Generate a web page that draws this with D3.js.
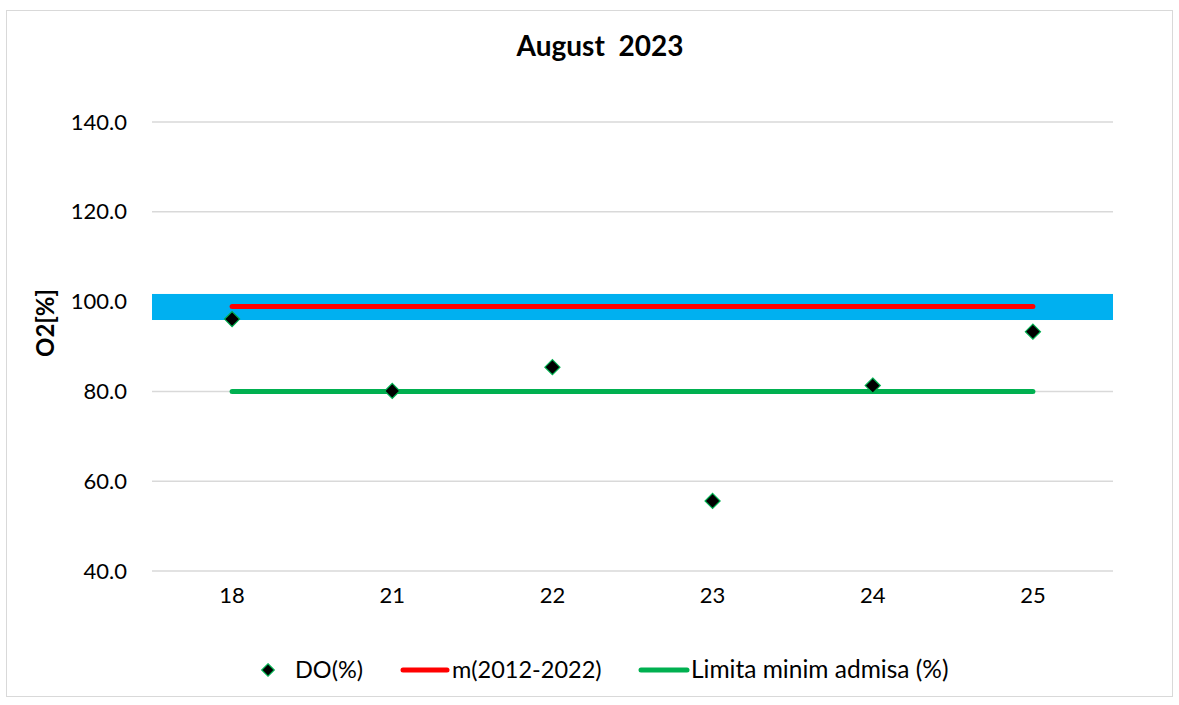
<!DOCTYPE html>
<html>
<head>
<meta charset="utf-8">
<script src="https://cdn.jsdelivr.net/npm/d3@7"></script>
<style>
  body { margin: 0; background: #fff; }
  svg text { font-family: Lato, "Open Sans", sans-serif; fill: #000; white-space: pre; }
</style>
</head>
<body>
<svg id="grafic" width="1179" height="705"></svg>
<script>
// date
var zile = ["18", "21", "22", "23", "24", "25"];
var valoriDO = [96.1, 80.1, 85.4, 55.6, 81.3, 93.3];
var medie = [98.9, 98.9, 98.9, 98.9, 98.9, 98.9];
var limita = [80, 80, 80, 80, 80, 80];
var banda = [95.9, 101.7];
var tickuriY = [40, 60, 80, 100, 120, 140];
var serii = ["DO(%)", "m(2012-2022)", "Limita minim admisa (%)"];

var svg = d3.select("#grafic");
var margin = {top: 122, right: 66, bottom: 134, left: 152};
var W = 1179, H = 705;

// chenar
svg.append("rect")
  .attr("x", 6.5).attr("y", 10.5)
  .attr("width", 1166).attr("height", 686)
  .attr("fill", "#fff").attr("stroke", "#d9d9d9").attr("stroke-width", 1);

var x = d3.scaleBand().domain(zile).range([margin.left, W - margin.right]);
var y = d3.scaleLinear().domain([40, 140]).range([H - margin.bottom, margin.top]);
var cx = function(d) { return x(d) + x.bandwidth() / 2; };

// grila
svg.append("g").selectAll("line")
  .data(tickuriY)
  .join("line")
  .attr("x1", margin.left).attr("x2", W - margin.right)
  .attr("y1", d => y(d)).attr("y2", d => y(d))
  .attr("stroke", "#d9d9d9").attr("stroke-width", 1.5);

// axa Y
var axaY = svg.append("g")
  .attr("transform", "translate(" + (margin.left - 25) + ",0)")
  .call(d3.axisLeft(y).tickValues(tickuriY).tickFormat(d3.format(".1f")).tickSize(0));
axaY.select(".domain").remove();
axaY.selectAll("text").attr("font-size", 22).attr("x", 0);

// axa X
var axaX = svg.append("g")
  .attr("transform", "translate(0," + (H - margin.bottom) + ")")
  .call(d3.axisBottom(x).tickSize(0));
axaX.select(".domain").remove();
axaX.selectAll("text").attr("font-size", 22).attr("dy", "1.3em");

// banda albastra
svg.append("rect")
  .attr("x", margin.left)
  .attr("width", W - margin.right - margin.left)
  .attr("y", y(banda[1]))
  .attr("height", y(banda[0]) - y(banda[1]))
  .attr("fill", "#00b0f0");

var linie = d3.line().x((d, i) => cx(zile[i])).y(d => y(d));

svg.append("path").datum(limita)
  .attr("d", linie).attr("fill", "none")
  .attr("stroke", "#00b050").attr("stroke-width", 5).attr("stroke-linecap", "round");

svg.append("path").datum(medie)
  .attr("d", linie).attr("fill", "none")
  .attr("stroke", "#ff0000").attr("stroke-width", 5).attr("stroke-linecap", "round");

// puncte
var romb = d3.symbol().type(d3.symbolDiamond2).size(145);
svg.append("g").selectAll("path")
  .data(valoriDO)
  .join("path")
  .attr("d", romb)
  .attr("transform", (d, i) => "translate(" + cx(zile[i]) + "," + y(d) + ")")
  .attr("fill", "#000").attr("stroke", "#00b050").attr("stroke-width", 1.2);

// titlu
svg.append("text")
  .attr("x", 600).attr("y", 56)
  .attr("text-anchor", "middle")
  .attr("font-size", 28).attr("font-weight", "bold")
  .text("August  2023");

svg.append("text")
  .attr("transform", "translate(54,323) rotate(-90)")
  .attr("text-anchor", "middle")
  .attr("font-size", 24).attr("font-weight", "bold")
  .text("O2[%]");

// legenda
var leg = svg.append("g").attr("transform", "translate(0,670)");
leg.append("path")
  .attr("d", d3.symbol().type(d3.symbolDiamond2).size(100))
  .attr("transform", "translate(268,0)")
  .attr("fill", "#000").attr("stroke", "#00b050").attr("stroke-width", 1.2);
leg.append("text").attr("x", 295).attr("y", 8).attr("font-size", 23.5).text(serii[0]);

leg.append("line").attr("x1", 403).attr("x2", 447).attr("y1", 0).attr("y2", 0)
  .attr("stroke", "#ff0000").attr("stroke-width", 5).attr("stroke-linecap", "round");
leg.append("text").attr("x", 452).attr("y", 8).attr("font-size", 23.5).text(serii[1]);

leg.append("line").attr("x1", 641).attr("x2", 687).attr("y1", 0).attr("y2", 0)
  .attr("stroke", "#00b050").attr("stroke-width", 5).attr("stroke-linecap", "round");
leg.append("text").attr("x", 691).attr("y", 8).attr("font-size", 24.5).text(serii[2]);
</script>
</body>
</html>
